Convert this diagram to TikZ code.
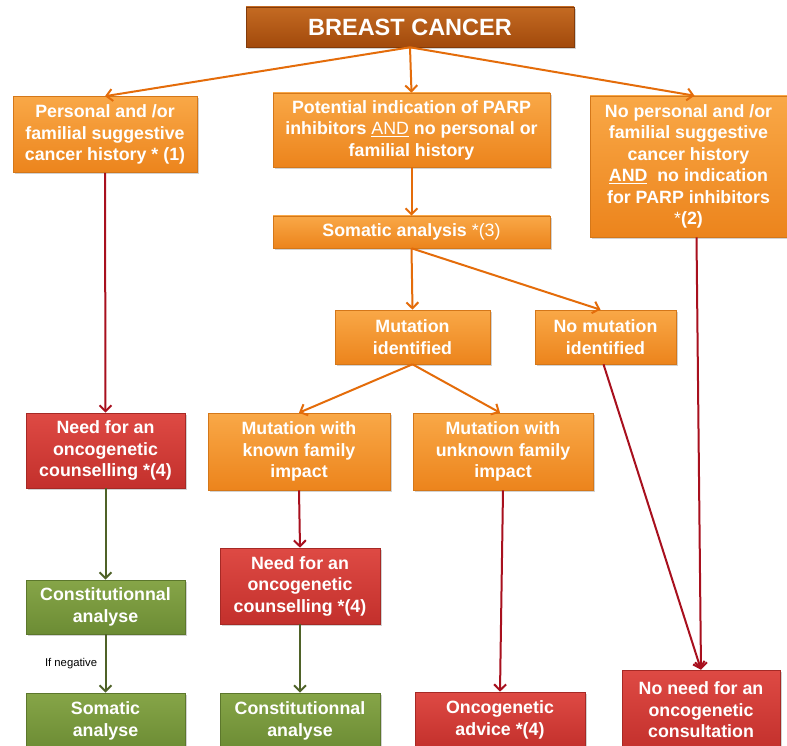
\documentclass[tikz,border=0pt]{standalone}
\usepackage{fontspec}
\setmainfont{Liberation Sans}
\usetikzlibrary{arrows.meta,shadows}
\definecolor{orgtop}{HTML}{F9A847}
\definecolor{orgbot}{HTML}{EC841C}
\definecolor{orgline}{HTML}{E46C0A}
\definecolor{redtop}{HTML}{DE4A44}
\definecolor{redbot}{HTML}{C3302C}
\definecolor{redline}{HTML}{A8101E}
\definecolor{grntop}{HTML}{86A548}
\definecolor{grnbot}{HTML}{6C8C34}
\definecolor{grnline}{HTML}{4F6228}
\definecolor{brntop}{HTML}{C46A22}
\definecolor{brnbot}{HTML}{A24A0C}
\newcommand{\Frame}{(0,0) rectangle (787,746)}
\tikzset{
  box/.style={rectangle, text=white, align=center, inner sep=0pt,
    font=\bfseries\fontsize{17.8}{21.5}\selectfont,
    drop shadow={shadow xshift=1.5pt, shadow yshift=-2pt, opacity=0.35}},
  orangebox/.style={box, top color=orgtop, bottom color=orgbot, draw=orgbot!90!black, line width=0.6pt},
  redbox/.style={box, top color=redtop, bottom color=redbot, draw=redbot!85!black, line width=0.6pt},
  greenbox/.style={box, top color=grntop, bottom color=grnbot, draw=grnbot!85!black, line width=0.6pt},
  topbox/.style={box, top color=brntop, bottom color=brnbot, draw=brnbot!80!black, line width=0.6pt,
    font=\bfseries\fontsize{23.5}{26}\selectfont},
  orangearrow/.style={draw=orgline, line width=2pt, -{Straight Barb[length=6pt,width=12pt]}},
  redarrow/.style={draw=redline, line width=2pt, -{Straight Barb[length=6pt,width=12pt]}},
  greenarrow/.style={draw=grnline, line width=2pt, -{Straight Barb[length=6pt,width=12pt]}}
}
\begin{document}
\begin{tikzpicture}[x=1pt,y=-1pt]
\path[use as bounding box, fill=white] \Frame;
\node[topbox, minimum width=328pt, minimum height=40pt] (cancer) at (410,27) {BREAST CANCER};
\node[orangebox, minimum width=184pt, minimum height=76pt] (perso) at (105,134.5) {Personal and /or\\familial suggestive\\cancer history * (1)};
\node[orangebox, minimum width=277pt, minimum height=74pt] (parp) at (411.5,130) {Potential indication of PARP\\inhibitors {\mdseries\underline{AND}} no personal or\\familial history};
\node[orangebox, minimum width=197pt, minimum height=141pt] (noperso) at (688.5,166.5) {No personal and /or\\familial suggestive\\cancer history\\\underline{AND}\ \ no indication\\for PARP inhibitors\\{\mdseries *}(2)};
\node[orangebox, minimum width=277pt, minimum height=32pt] (somatic) at (411.5,232) {Somatic analysis {\mdseries *(3)}};
\node[orangebox, minimum width=155pt, minimum height=54pt] (mutid) at (412.5,337) {Mutation\\identified};
\node[orangebox, minimum width=141pt, minimum height=54pt] (nomut) at (605.5,337) {No mutation\\identified};
\node[redbox, minimum width=159pt, minimum height=75pt] (needA) at (105.5,450.5) {Need for an\\oncogenetic\\counselling *(4)};
\node[orangebox, minimum width=182pt, minimum height=77pt] (known) at (299,451.5) {Mutation with\\known family\\impact};
\node[orangebox, minimum width=180pt, minimum height=77pt] (unknown) at (503,451.5) {Mutation with\\unknown family\\impact};
\node[redbox, minimum width=160pt, minimum height=76pt] (needB) at (300,586) {Need for an\\oncogenetic\\counselling *(4)};
\node[greenbox, minimum width=159pt, minimum height=54pt] (constA) at (105.5,607) {Constitutionnal\\analyse};
\node[greenbox, minimum width=159pt, minimum height=56pt] (somA) at (105.5,721) {Somatic\\analyse};
\node[greenbox, minimum width=160pt, minimum height=56pt] (constB) at (300,721) {Constitutionnal\\analyse};
\node[redbox, minimum width=170pt, minimum height=56pt] (advice) at (500,720) {Oncogenetic\\advice *(4)};
\node[redbox, minimum width=158pt, minimum height=80pt] (noneed) at (701,710) {No need for an\\oncogenetic\\consultation};
\draw[orangearrow] (cancer.south) -- (perso.north);
\draw[orangearrow] (cancer.south) -- (parp.north);
\draw[orangearrow] (cancer.south) -- ([xshift=6pt]noperso.north);
\draw[orangearrow] (parp.south) -- (somatic.north);
\draw[orangearrow] (somatic.south) -- (mutid.north);
\draw[orangearrow] (somatic.south) -- ([xshift=-5pt]nomut.north);
\draw[orangearrow] (mutid.south) -- (known.north);
\draw[orangearrow] (mutid.south) -- ([xshift=-3pt]unknown.north);
\draw[redarrow] (perso.south) -- (needA.north);
\draw[redarrow] (known.south) -- (needB.north);
\draw[redarrow] (unknown.south) -- (advice.north);
\draw[redarrow] ([xshift=-2pt]nomut.south) -- (noneed.north);
\draw[redarrow] ([xshift=8pt]noperso.south) -- (noneed.north);
\draw[greenarrow] (needA.south) -- (constA.north);
\draw[greenarrow] (constA.south) -- node[left=4pt, font=\fontsize{11.3}{13}\selectfont] (ifneg) {If negative} (somA.north);
\draw[greenarrow] (needB.south) -- (constB.north);
\end{tikzpicture}
\end{document}
